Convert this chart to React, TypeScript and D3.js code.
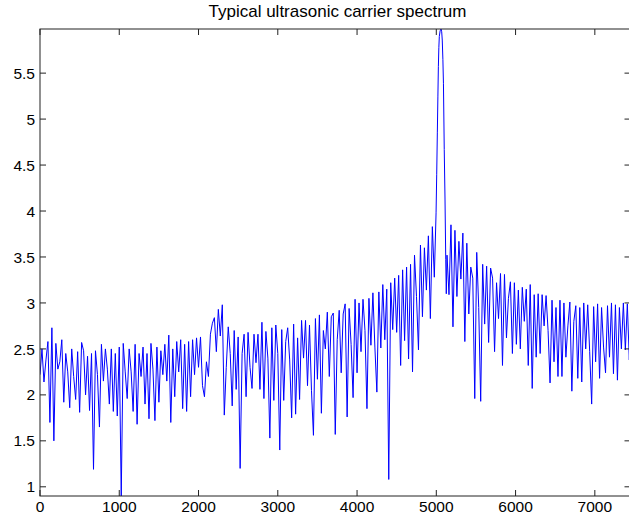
import React from "react";
import * as d3 from "d3";

// Spectrum samples below the carrier (start 0 Hz, step 25 Hz)
const lowStart = 0;
const sampleStep = 25;
const ampLow = [
  2.22, 2.50, 2.14, 2.38, 2.58, 1.70, 2.73, 1.50, 2.56, 2.28,
  2.36, 2.60, 1.92, 2.45, 2.25, 1.86, 2.50, 2.20, 1.95, 2.47,
  1.81, 2.57, 2.48, 2.00, 2.42, 1.83, 2.45, 1.19, 2.48, 2.22,
  1.65, 2.55, 2.15, 2.50, 2.28, 1.90, 2.50, 1.82, 2.45, 1.77,
  2.52, 0.90, 2.56, 2.25, 1.96, 2.50, 2.25, 1.82, 2.55, 1.68,
  2.45, 2.20, 2.52, 1.90, 2.45, 1.74, 2.56, 2.28, 1.72, 2.52,
  1.92, 2.48, 2.22, 2.55, 2.15, 2.65, 1.70, 2.50, 1.98, 2.58,
  2.25, 2.60, 1.85, 2.55, 1.82, 2.58, 1.98, 2.60, 2.22, 2.62,
  2.30, 2.63, 2.10, 1.98, 2.36, 2.20, 2.66, 2.78, 2.84, 2.47,
  2.93, 2.64, 2.98, 1.78, 2.30, 2.74, 2.45, 1.88, 2.70, 2.06,
  2.63, 1.20, 2.45, 2.66, 1.98, 2.68, 2.30, 2.07, 2.66, 2.35,
  2.66, 2.06, 2.79, 1.96, 2.69, 2.40, 1.53, 2.73, 1.94, 2.76,
  2.45, 1.40, 2.71, 1.94, 2.58, 2.73, 2.38, 1.75, 2.77, 1.79,
  2.62, 1.95, 2.81, 2.40, 2.81, 2.10, 2.76, 2.05, 1.56, 2.83,
  2.17, 2.87, 1.80, 2.70, 2.50, 2.90, 2.20, 2.85, 2.89, 1.57,
  2.60, 2.92, 2.24, 2.88, 2.99, 1.76, 2.94, 2.55, 1.97, 3.04,
  2.24, 3.00, 2.47, 3.04, 2.70, 1.85, 3.05, 2.54, 3.11, 2.52,
  2.03, 3.12, 2.51, 3.20, 2.60, 3.15, 1.08, 3.22, 2.71, 3.27,
  2.68, 3.30, 2.32, 3.36, 2.59, 3.39, 2.39, 3.42, 2.25, 3.52,
  3.07, 2.49, 3.63, 2.85, 3.60, 3.14, 3.73, 2.83, 3.83, 3.28,
];

// Carrier peak, finer sampling
const peakFreq = [4997, 5005, 5013, 5020, 5026, 5032, 5038, 5048, 5060, 5068, 5075, 5083, 5090, 5100, 5110, 5119, 5126];
const peakAmp = [3.98, 4.40, 4.85, 5.25, 5.57, 5.78, 5.90, 5.96, 5.98, 5.95, 5.86, 5.65, 5.39, 4.67, 4.12, 3.47, 3.10];

// Spectrum samples above the carrier (start 5135 Hz, step 25 Hz)
const highStart = 5135;
const ampHigh = [
  3.52, 3.09, 3.85, 2.74, 3.79, 3.07, 3.67, 3.26, 3.76, 2.58,
  3.65, 2.88, 3.39, 3.27, 1.96, 3.55, 2.95, 1.93, 3.42, 2.77,
  3.40, 2.57, 3.38, 3.27, 2.47, 3.22, 2.83, 3.32, 2.32, 3.31,
  2.62, 3.05, 3.23, 2.45, 3.22, 2.55, 3.14, 2.50, 3.17, 2.80,
  3.15, 2.32, 3.20, 2.07, 3.09, 2.41, 3.10, 2.45, 3.09, 2.75,
  3.08, 2.70, 2.13, 3.03, 2.36, 2.95, 2.20, 3.03, 2.20, 3.00,
  2.41, 2.75, 3.01, 2.04, 2.80, 2.97, 2.18, 2.95, 2.14, 3.00,
  2.50, 2.98, 2.47, 1.90, 2.96, 2.36, 2.99, 2.18, 2.95, 2.52,
  2.24, 2.97, 2.41, 3.00, 2.23, 2.98, 2.16, 2.95, 2.50, 3.00,
  2.49, 2.99, 2.38, 2.90,
];

const xDomain = [0, 7450];
const yDomain = [0.9, 5.98];
const xTicks = [0, 1000, 2000, 3000, 4000, 5000, 6000, 7000];
const yTicks = [1, 1.5, 2, 2.5, 3, 3.5, 4, 4.5, 5, 5.5];
const titleText = "Typical ultrasonic carrier spectrum";

const W = 629;
const H = 525;
const M = { left: 40, right: 630.5, top: 29, bottom: 496 };

export default function App() {
  const x = d3.scaleLinear().domain(xDomain).range([M.left, M.right]);
  const y = d3.scaleLinear().domain(yDomain).range([M.bottom, M.top]);

  const pts: [number, number][] = [];
  ampLow.forEach((v, i) => pts.push([lowStart + i * sampleStep, v]));
  peakFreq.forEach((f, i) => pts.push([f, peakAmp[i]]));
  ampHigh.forEach((v, i) => pts.push([highStart + i * sampleStep, v]));

  const line = d3
    .line<[number, number]>()
    .x((d) => x(d[0]))
    .y((d) => y(d[1]));

  const font = "'Liberation Sans', Arial, Helvetica, sans-serif";
  const axisColor = "#222";
  const tl = 6;

  return (
    <svg
      width={W}
      height={H}
      style={{ position: "absolute", left: 0, top: 0, background: "#fff" }}
    >
      <defs>
        <clipPath id="plotclip">
          <rect x={M.left} y={M.top} width={M.right - M.left} height={M.bottom - M.top} />
        </clipPath>
      </defs>
      <rect x={0} y={0} width={W} height={H} fill="#fff" />
      <path
        d={line(pts) || ""}
        fill="none"
        stroke="#0000ff"
        strokeWidth={1}
        strokeLinejoin="miter"
        clipPath="url(#plotclip)"
      />
      <rect
        x={M.left}
        y={M.top}
        width={M.right - M.left}
        height={M.bottom - M.top}
        fill="none"
        stroke={axisColor}
        strokeWidth={1}
      />
      {xTicks.map((t) => (
        <g key={"x" + t}>
          <line x1={x(t)} x2={x(t)} y1={M.bottom} y2={M.bottom - tl} stroke={axisColor} />
          <line x1={x(t)} x2={x(t)} y1={M.top} y2={M.top + tl} stroke={axisColor} />
          <text
            x={x(t)}
            y={511.5}
            textAnchor="middle"
            fontFamily={font}
            fontSize={15.5}
            fill="#000"
          >
            {String(t)}
          </text>
        </g>
      ))}
      {yTicks.map((t) => (
        <g key={"y" + t}>
          <line x1={M.left} x2={M.left + tl} y1={y(t)} y2={y(t)} stroke={axisColor} />
          <line x1={M.right} x2={M.right - tl} y1={y(t)} y2={y(t)} stroke={axisColor} />
          <text
            x={35}
            y={y(t) + 5.6}
            textAnchor="end"
            fontFamily={font}
            fontSize={15.5}
            fill="#000"
          >
            {String(t)}
          </text>
        </g>
      ))}
      <text
        x={337.5}
        y={16.5}
        textAnchor="middle"
        fontFamily={font}
        fontSize={17}
        fill="#000"
      >
        {titleText}
      </text>
    </svg>
  );
}
